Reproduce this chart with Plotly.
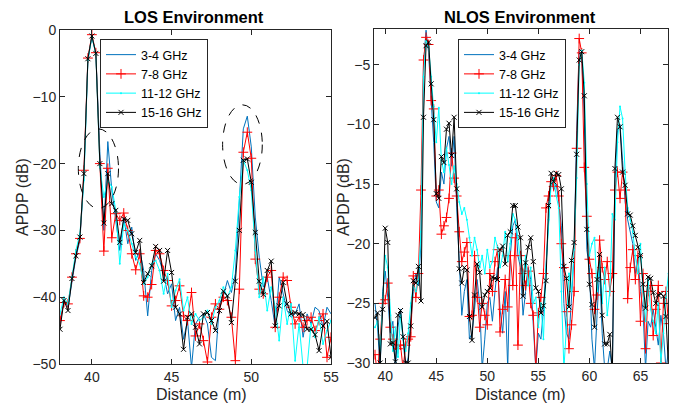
import numpy as np
import plotly.graph_objects as go

# ---------------- data ----------------
series_names = ["3-4 GHz", "7-8 GHz", "11-12 GHz", "15-16 GHz"]

# LOS environment, distance grid 38.00 ... 55.00 m (0.25 m bins)
los_start, los_step = 38.0, 0.25
los_3_4 = [-44.0, -40.5, -41.5, -37.5, -34.0, -31.5, -22.0, -4.5, -1.0, -3.6,
           -18.2, -30.0, -16.7, -24.0, -28.5, -33.0, -28.0, -32.0, -29.5, -34.5,
           -33.0, -36.0, -42.8, -36.0, -33.5, -34.5, -36.5, -39.5, -38.0, -43.5,
           -41.5, -46.3, -43.5, -50.5, -44.0, -43.0, -42.5, -44.0, -49.0, -49.5,
           -41.0, -39.8, -37.5, -39.3, -36.5, -26.0, -14.8, -12.9, -17.5, -28.0,
           -34.0, -38.5, -37.0, -40.5, -44.5, -37.0, -39.5, -42.0, -43.0, -42.5,
           -41.0, -46.0, -42.5, -44.0, -41.5, -42.0, -44.5, -41.5, -42.5]
los_7_8 = [-43.5, -40.8, -41.0, -37.0, -33.5, -31.2, -21.0, -4.2, -0.7, -3.4,
           -20.0, -33.1, -20.7, -31.1, -27.5, -28.5, -27.4, -30.0, -33.5, -35.9,
           -33.5, -39.8, -40.0, -38.1, -33.0, -33.5, -36.0, -37.5, -41.3, -40.5,
           -38.3, -42.8, -43.5, -39.3, -45.8, -44.0, -46.5, -49.7, -43.0, -41.0,
           -41.8, -40.0, -40.5, -43.0, -49.5, -38.8, -18.3, -15.3, -19.2, -34.3,
           -38.8, -39.5, -37.0, -36.0, -44.5, -40.0, -37.0, -37.5, -41.5, -44.0,
           -43.0, -44.5, -43.5, -43.0, -45.0, -43.5, -42.5, -49.0, -46.0]
los_11_12 = [-42.5, -40.0, -41.0, -37.0, -33.0, -30.5, -22.5, -4.5, -1.0, -3.6,
             -20.5, -25.0, -22.5, -23.5, -27.0, -35.0, -29.0, -30.0, -32.0, -34.0,
             -35.0, -38.0, -37.0, -35.0, -34.5, -36.0, -39.5, -36.5, -41.5, -39.0,
             -37.3, -42.0, -40.0, -44.0, -42.5, -43.5, -43.0, -42.0, -44.0, -41.5,
             -40.5, -38.5, -40.0, -38.5, -33.0, -25.0, -19.5, -21.0, -24.0, -33.0,
             -40.0, -37.0, -42.0, -38.5, -41.5, -46.5, -40.0, -44.0, -41.0, -49.5,
             -44.0, -50.5, -50.5, -44.0, -46.0, -43.0, -47.0, -45.0, -43.5]
los_15_16 = [-44.8, -40.5, -42.0, -37.2, -33.8, -31.0, -21.5, -4.3, -0.9, -3.5,
             -20.0, -28.9, -21.5, -26.0, -27.0, -31.8, -28.3, -28.5, -30.5, -33.3,
             -31.5, -37.8, -36.5, -35.3, -32.4, -33.0, -37.6, -33.0, -36.3, -41.5,
             -42.5, -47.8, -43.0, -42.5, -44.5, -47.0, -42.5, -42.3, -43.5, -45.0,
             -42.0, -39.1, -39.8, -43.8, -37.6, -30.0, -19.5, -19.3, -22.8, -30.3,
             -37.6, -39.6, -36.0, -34.6, -44.3, -41.3, -37.8, -41.0, -42.5, -42.3,
             -42.5, -42.6, -44.8, -44.8, -45.6, -48.0, -44.3, -43.6, -49.0]

# NLOS environment, distance grid 39.00 ... 67.75 m (0.25 m bins)
nlos_start, nlos_step = 39.0, 0.25
nlos_3_4 = [-25.0, -27.0, -30.5, -24.0, -22.3, -24.5, -27.5, -26.5, -30.5, -27.0,
            -25.5, -28.5, -30.5, -29.5, -27.0, -24.0, -22.5, -23.5, -20.0, -5.0,
            -2.1, -4.0, -8.0, -11.5, -16.5, -17.0, -14.0, -15.0, -12.0, -11.0,
            -13.5, -11.0, -17.0, -21.0, -26.0, -24.0, -23.0, -28.0, -27.5, -25.5,
            -23.0, -25.0, -30.5, -28.0, -25.0, -24.5, -26.5, -24.0, -22.0, -25.5,
            -27.5, -24.0, -30.5, -21.0, -18.5, -18.0, -21.0, -22.0, -26.0, -24.0,
            -22.0, -23.0, -27.0, -30.5, -27.5, -28.0, -25.5, -22.0, -18.0, -14.5,
            -15.5, -15.0, -16.5, -18.5, -25.0, -27.5, -28.0, -24.0, -21.0, -10.5,
            -3.8, -4.5, -9.5, -20.5, -22.0, -28.0, -30.5, -26.0, -22.0, -27.5,
            -30.5, -30.5, -29.0, -30.5, -15.0, -10.5, -10.0, -13.0, -16.5, -18.0,
            -19.0, -20.0, -22.5, -21.0, -24.0, -25.5, -30.5, -26.5, -27.0, -25.5,
            -27.0, -28.5, -26.0, -27.5, -30.5, -29.0]
nlos_7_8 = [-29.3, -31.0, -28.0, -25.0, -24.7, -23.3, -27.0, -28.0, -28.5, -28.8,
            -28.5, -30.5, -28.5, -28.0, -27.8, -22.7, -24.5, -22.5, -15.5, -4.6,
            -2.7, -3.3, -8.0, -8.7, -16.0, -15.5, -19.2, -18.5, -17.8, -16.2,
            -12.4, -14.5, -16.0, -19.0, -21.5, -20.7, -19.9, -26.1, -26.0, -21.0,
            -24.5, -27.0, -25.0, -26.0, -26.8, -22.5, -24.0, -21.5, -20.5, -27.4,
            -25.5, -23.0, -25.3, -21.0, -23.5, -19.5, -28.5, -21.0, -22.5, -23.5,
            -22.3, -25.0, -26.0, -30.5, -25.8, -24.5, -22.5, -17.0, -16.0, -14.8,
            -15.2, -14.3, -16.0, -20.0, -22.0, -25.7, -28.8, -26.8, -24.0, -12.0,
            -2.8, -4.0, -13.6, -17.7, -21.3, -22.5, -25.5, -24.3, -19.7, -22.0,
            -23.0, -21.5, -24.0, -22.5, -15.5, -14.0, -16.2, -14.0, -15.5, -24.6,
            -22.0, -20.5, -23.0, -21.0, -26.5, -22.5, -28.8, -24.0, -23.5, -27.7,
            -25.5, -23.5, -30.0, -25.0, -24.0, -26.7]
nlos_11_12 = [-27.0, -26.5, -29.0, -24.5, -21.0, -22.0, -26.0, -29.0, -27.0, -29.5,
              -26.0, -28.0, -29.0, -27.5, -25.0, -23.5, -24.0, -23.0, -19.0, -6.0,
              -3.0, -3.5, -6.0, -8.5, -11.5, -8.6, -13.0, -14.0, -12.0, -13.4,
              -15.0, -13.5, -15.0, -16.5, -17.5, -17.0, -18.0, -19.5, -21.0, -19.5,
              -20.5, -22.0, -21.0, -22.5, -20.5, -22.0, -21.5, -19.5, -20.3, -22.0,
              -21.0, -19.0, -21.5, -20.0, -17.5, -18.0, -19.5, -21.5, -23.0, -21.0,
              -23.5, -22.0, -25.0, -24.5, -27.0, -25.0, -28.0, -22.0, -18.0, -15.0,
              -14.5, -16.0, -17.0, -24.0, -30.5, -27.0, -22.5, -24.0, -20.5, -14.5,
              -5.0, -3.8, -6.5, -15.0, -21.0, -20.0, -19.5, -24.0, -21.5, -25.0,
              -22.0, -26.0, -24.0, -17.5, -18.0, -11.5, -8.5, -9.5, -14.0, -17.0,
              -18.0, -19.0, -21.0, -22.5, -20.0, -24.0, -26.5, -23.0, -25.5, -26.5,
              -27.5, -25.0, -30.0, -27.5, -24.5, -22.5]
nlos_15_16 = [-26.2, -25.8, -30.0, -25.5, -18.7, -19.9, -28.4, -28.3, -29.9, -26.0,
              -25.6, -27.8, -30.0, -30.0, -26.9, -23.1, -23.3, -21.9, -24.8, -9.4,
              -3.4, -3.1, -6.6, -9.6, -15.8, -16.2, -12.7, -13.2, -10.4, -9.9,
              -12.6, -9.4, -15.4, -22.1, -23.3, -22.0, -22.2, -26.1, -28.1, -24.3,
              -21.7, -22.4, -25.3, -24.3, -24.0, -23.7, -22.8, -22.9, -23.0, -20.5,
              -20.2, -21.7, -19.3, -19.0, -16.8, -16.8, -18.6, -19.5, -24.4, -21.6,
              -20.3, -19.5, -21.5, -23.7, -24.0, -25.8, -25.2, -23.1, -16.8, -14.1,
              -14.8, -14.1, -14.2, -15.4, -21.9, -22.9, -25.3, -21.4, -19.9, -12.5,
              -4.6, -3.9, -7.6, -18.8, -23.4, -25.1, -27.0, -23.0, -20.9, -26.0,
              -28.4, -28.4, -27.6, -31.0, -13.7, -9.4, -10.2, -14.0, -15.1, -17.5,
              -17.6, -18.5, -19.3, -20.3, -21.0, -23.4, -25.4, -22.8, -22.9, -24.1,
              -25.0, -24.3, -24.2, -24.4, -26.1, -30.5]

los_xticks = [40, 45, 50, 55]
los_yticks = [0, -10, -20, -30, -40, -50]
nlos_xticks = [40, 45, 50, 55, 60, 65]
nlos_yticks = [-5, -10, -15, -20, -25, -30]

# ---------------- styling ----------------
W, H = 677, 407
AX = "#262626"
FONT = "Liberation Sans, Arial, Helvetica, sans-serif"

styles = [
    dict(mode="lines", line=dict(color="#0072BD", width=1)),
    dict(mode="lines+markers", line=dict(color="#FF0000", width=1),
         marker=dict(symbol="cross-thin", size=7, line=dict(color="#FF0000", width=1))),
    dict(mode="lines+markers", line=dict(color="#00FFFF", width=1),
         marker=dict(symbol="circle", size=2, color="#00FFFF")),
    dict(mode="lines+markers", line=dict(color="#000000", width=1),
         marker=dict(symbol="x-thin", size=5, line=dict(color="#000000", width=1))),
]

def grid(start, step, n):
    return [round(start + step * i, 2) for i in range(n)]

fig = go.Figure()
for name, vals, st in zip(series_names, [los_3_4, los_7_8, los_11_12, los_15_16], styles):
    fig.add_trace(go.Scatter(x=grid(los_start, los_step, len(vals)), y=vals, name=name,
                             xaxis="x", yaxis="y", legend="legend", **st))
for name, vals, st in zip(series_names, [nlos_3_4, nlos_7_8, nlos_11_12, nlos_15_16], styles):
    fig.add_trace(go.Scatter(x=grid(nlos_start, nlos_step, len(vals)), y=vals, name=name,
                             xaxis="x2", yaxis="y2", legend="legend2", **st))

def px(x):
    return x / W

def py(y):
    return 1 - y / H

axis_common = dict(showline=True, linecolor=AX, linewidth=1, mirror="ticks", ticks="inside",
                   ticklen=5, tickcolor=AX, showgrid=False, zeroline=False, automargin=False,
                   tickfont=dict(family=FONT, size=14, color=AX))

leg_common = dict(xanchor="left", yanchor="top", bgcolor="white",
                  bordercolor=AX, borderwidth=1, font=dict(family=FONT, size=12.5, color="#000000"),
                  tracegroupgap=0, itemwidth=30)

fig.update_layout(
    width=W, height=H, margin=dict(l=0, r=0, t=0, b=0, pad=0, autoexpand=False),
    paper_bgcolor="white", plot_bgcolor="white",
    font=dict(family=FONT, color=AX),
    xaxis=dict(domain=[px(60), px(331)], range=[38, 55], tickvals=los_xticks,
               anchor="y", **axis_common),
    yaxis=dict(domain=[py(364), py(30)], range=[-50, 0], tickvals=los_yticks,
               anchor="x", **axis_common),
    xaxis2=dict(domain=[px(374), px(668)], range=[38.9, 67.7], tickvals=nlos_xticks,
                anchor="y2", **axis_common),
    yaxis2=dict(domain=[py(363), py(29)], range=[-30, -2], tickvals=nlos_yticks,
                anchor="x2", **axis_common),
    legend=dict(x=px(100), y=py(39), **leg_common),
    legend2=dict(x=px(458), y=py(39), **leg_common),
    showlegend=True,
)

# dashed ellipses highlighting the peaks (LOS panel)
fig.add_shape(type="circle", xref="x", yref="y", x0=39.15, x1=41.67, y0=-26.7, y1=-14.8,
              line=dict(color="#000000", width=1, dash="dash"))
fig.add_shape(type="circle", xref="x", yref="y", x0=48.2, x1=50.69, y0=-23.1, y1=-11.2,
              line=dict(color="#000000", width=1, dash="dash"))

ann = [
    dict(text="<b>LOS Environment</b>", x=px(194), y=py(16.5), size=16.5),
    dict(text="<b>NLOS Environment</b>", x=px(520), y=py(16.5), size=16.5),
    dict(text="Distance (m)", x=px(201), y=py(394), size=16),
    dict(text="Distance (m)", x=px(520), y=py(394), size=16),
]
for a in ann:
    fig.add_annotation(text=a["text"], x=a["x"], y=a["y"], xref="paper", yref="paper",
                       showarrow=False, xanchor="center", yanchor="middle",
                       font=dict(family=FONT, size=a["size"], color="#000000" if "<b>" in a["text"] else AX))
for xx in (22, 343):
    fig.add_annotation(text="APDP (dB)", x=px(xx), y=py(197), xref="paper", yref="paper",
                       showarrow=False, textangle=-90, xanchor="center", yanchor="middle",
                       font=dict(family=FONT, size=16, color=AX))

fig.write_html("out.html", config={"displayModeBar": False},
               post_script="document.body.style.margin='0';document.body.style.overflow='hidden';")
